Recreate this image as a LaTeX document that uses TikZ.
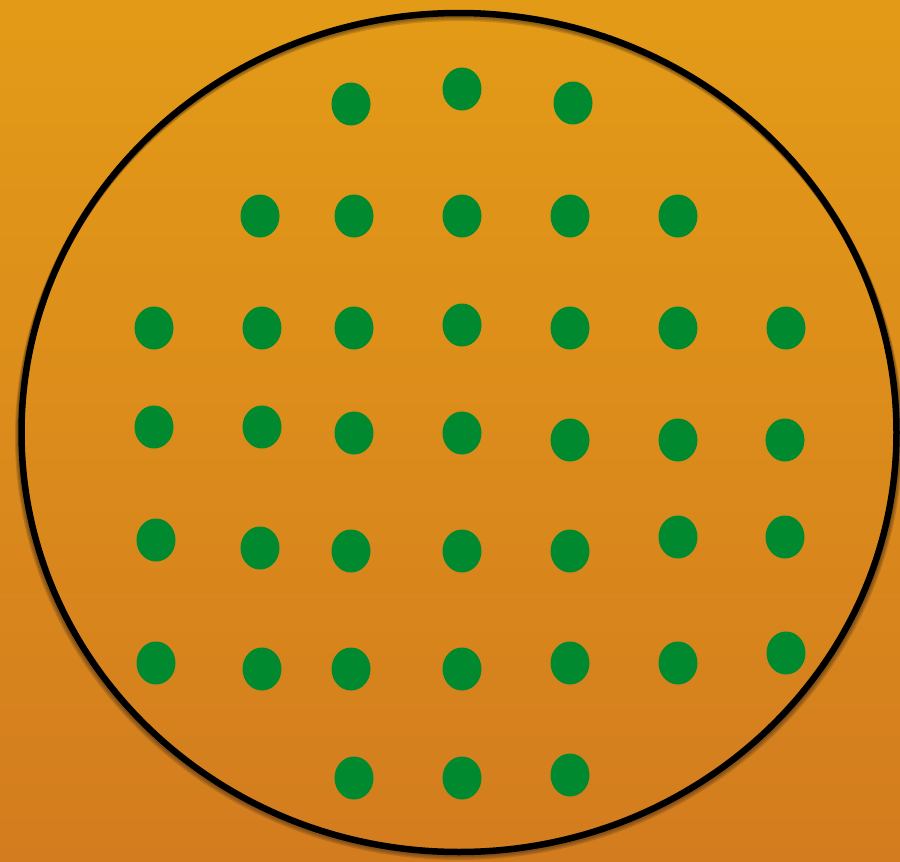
\documentclass[tikz,border=0pt]{standalone}
\usetikzlibrary{shapes.geometric}

\definecolor{bgtop}{HTML}{E39B17}
\definecolor{bgbottom}{HTML}{D37C1F}
\definecolor{seedgreen}{HTML}{00892E}

\begin{document}
\begin{tikzpicture}[x=1pt, y=-1pt,
        seed/.style={ellipse, fill=seedgreen, minimum width=39pt, minimum height=43pt, inner sep=0pt},
        rim/.style={draw=black, line width=6.5pt},
        rim shadow/.style={draw=black!70!brown, line width=7pt, opacity=0.2},
    ]

    % Background
    \shade[top color=bgtop, bottom color=bgbottom] (0,0) rectangle (900,862);
    \useasboundingbox (0,0) rectangle (900,862);

    % Plate rim with a soft shadow
    \foreach \dx/\dy in {1/1.5, 2/3, 3/4.5}
        \draw[rim shadow] (459,432.5+\dy) ellipse [x radius=437.5+\dx, y radius=419.5];
    \draw[rim] (459,432.5) ellipse [x radius=437.5, y radius=419.5];

    % Top row
    \foreach \name/\x/\y in {a1/351/104, a2/462/89, a3/573/103}
        \node[seed] (\name) at (\x,\y) {};

    % Second row
    \foreach \name/\x/\y in {b1/260/216, b2/354/216, b3/462/216, b4/570/216, b5/678/216}
        \node[seed] (\name) at (\x,\y) {};

    % Third row
    \foreach \name/\x/\y in {c1/154/328, c2/262/328, c3/354/328, c4/462/325, c5/570/328, c6/678/328, c7/786/328}
        \node[seed] (\name) at (\x,\y) {};

    % Fourth row
    \foreach \name/\x/\y in {d1/154/427, d2/262/427, d3/354/433, d4/462/433, d5/570/440, d6/678/440, d7/785/440}
        \node[seed] (\name) at (\x,\y) {};

    % Fifth row
    \foreach \name/\x/\y in {e1/156/540, e2/260/548, e3/351/551, e4/462/551, e5/570/551, e6/678/537, e7/785/537}
        \node[seed] (\name) at (\x,\y) {};

    % Sixth row
    \foreach \name/\x/\y in {f1/156/663, f2/262/669, f3/351/669, f4/462/669, f5/570/663, f6/678/663, f7/786/653}
        \node[seed] (\name) at (\x,\y) {};

    % Bottom row
    \foreach \name/\x/\y in {g1/354/778, g2/462/778, g3/570/775}
        \node[seed] (\name) at (\x,\y) {};

\end{tikzpicture}
\end{document}
